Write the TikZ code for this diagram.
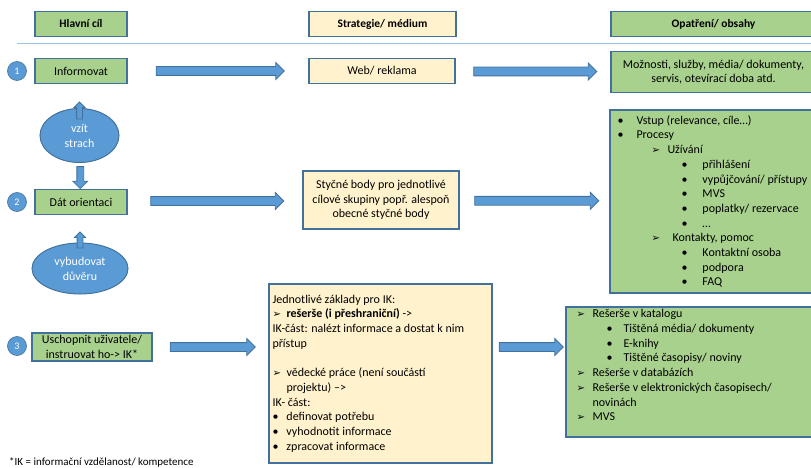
\documentclass[tikz,border=0pt]{standalone}
\usepackage{fontspec}
\setmainfont{Carlito}
\newfontfamily\symfont{DejaVu Sans}[Scale=0.85]
\definecolor{boxline}{HTML}{41719C}
\definecolor{goalgreen}{HTML}{A9D18E}
\definecolor{stratcream}{HTML}{FFF2CC}
\definecolor{arrowblue}{HTML}{5B9BD5}
\definecolor{rulecol}{HTML}{9DC3E6}
\usetikzlibrary{calc, shapes.geometric, shapes.arrows}

\begin{document}
\begin{tikzpicture}[x=1pt, y=-1pt,
  headbox/.style={draw=boxline, line width=1.4pt, minimum height=25, inner sep=2pt,
                  font=\fontsize{11.5}{13}\selectfont\bfseries},
  goalbox/.style={draw=boxline, line width=1.4pt, fill=goalgreen, inner sep=2pt,
                  align=center, font=\fontsize{12}{14.7}\selectfont},
  stratbox/.style={goalbox, fill=stratcream},
  listbox/.style={draw=boxline, line width=1.4pt, fill=goalgreen},
  listtext/.style={inner sep=0pt, align=left, font=\fontsize{12}{14.7}\selectfont},
  numdot/.style={circle, draw=boxline, line width=0.6pt, fill=arrowblue, text=white,
                 minimum size=19, inner sep=0pt, font=\fontsize{10}{12}\selectfont},
  feeling/.style={ellipse, draw=boxline, line width=1pt, fill=arrowblue, text=white,
                  align=center, inner sep=0pt, font=\fontsize{12}{15}\selectfont},
  blockarrow/.style={single arrow, draw=boxline, fill=arrowblue, line width=0.8pt,
                     inner sep=4pt, single arrow head extend=4pt,
                     single arrow tip angle=90, single arrow head indent=0pt},
  smallarrow/.style={blockarrow, inner sep=2.5pt, single arrow head extend=2.5pt},
]
\useasboundingbox (0,0) rectangle (811,468);

\node[headbox, fill=goalgreen, minimum width=92] (hcil) at (81,24) {Hlavní cíl};
\node[headbox, fill=stratcream, minimum width=147] (hstrat) at (382.5,24) {Strategie/ médium};
\node[headbox, fill=goalgreen, minimum width=205] (hopat) at (713.5,24) {Opatření/ obsahy};
\draw[rulecol, line width=1.2pt] (17,43.5) -- (811,43.5);

% 1
\node[numdot] (n1) at (17,71) {1};
\node[goalbox, minimum width=92, minimum height=25] (inf) at (81,71) {Informovat};
\node[stratbox, minimum width=146, minimum height=25] (web) at (382,71) {Web/ reklama};
\node[goalbox, minimum width=205, minimum height=41] (mozn) at (713.5,72)
  {Možnosti, služby, média/ dokumenty,\\servis, otevírací doba atd.};
\node[blockarrow, minimum height=128] (a1) at ($(inf.east)!.5!(web.west)$) {};
\node[blockarrow, minimum height=123] (a2) at ($(web.east)!.5!(mozn.west)$) {};

\node[feeling, minimum width=79, minimum height=54] (e1) at (79.5,135.5) {vzít\\strach};
\node[smallarrow, shape border rotate=90, minimum height=17] (a3) at ([yshift=-4pt]e1.north) {};

% 2
\node[numdot] (n2) at (17,202) {2};
\node[goalbox, minimum width=92, minimum height=25] (dat) at (81,202) {Dát orientaci};
\node[blockarrow, inner sep=3pt, single arrow head extend=4pt, shape border rotate=270,
      minimum height=22] (a4) at ($(e1.south)!.5!(dat.north)$) {};
\node[stratbox, minimum width=156, minimum height=58] (styc) at (381,200)
  {Styčné body pro jednotlivé\\cílové skupiny popř. alespoň\\obecné styčné body};
\node[listbox, minimum width=206, minimum height=183] (vstup) at (713,201.5) {};
\node[listtext, anchor=west] (vstuptext) at ([xshift=8pt]vstup.west) {%
  \makebox[19pt][l]{•}Vstup (relevance, cíle…)\\
  \makebox[19pt][l]{•}Procesy\\
  \hspace*{34pt}\makebox[16pt][l]{\symfont ➢}Užívání\\
  \hspace*{64pt}\makebox[21pt][l]{•}přihlášení\\
  \hspace*{64pt}\makebox[21pt][l]{•}vypůjčování/ přístupy\\
  \hspace*{64pt}\makebox[21pt][l]{•}MVS\\
  \hspace*{64pt}\makebox[21pt][l]{•}poplatky/ rezervace\\
  \hspace*{64pt}\makebox[21pt][l]{•}…\\
  \hspace*{34pt}\makebox[21pt][l]{\symfont ➢}Kontakty, pomoc\\
  \hspace*{64pt}\makebox[21pt][l]{•}Kontaktní osoba\\
  \hspace*{64pt}\makebox[21pt][l]{•}podpora\\
  \hspace*{64pt}\makebox[21pt][l]{•}FAQ};
\node[blockarrow, minimum height=133] (a5) at ($(dat.east)!.5!(styc.west)$) {};
\node[blockarrow, minimum height=124] (a6) at ($(styc.east)!.5!(vstup.west)$) {};

\node[feeling, minimum width=96, minimum height=51] (e2) at (80,268.5) {vybudovat\\důvěru};
\node[smallarrow, shape border rotate=90, minimum height=16] (a7) at ([yshift=1pt]e2.north) {};

% 3
\node[numdot] (n3) at (17,346) {3};
\node[goalbox, minimum width=120, minimum height=28] (usch) at (92,347)
  {Uschopnit uživatele/\\instruovat ho-> IK*};
\node[stratbox, minimum width=223, minimum height=179] (ik) at (380.5,373.5) {};
\node[listtext, anchor=west] (iktext) at ([xshift=4pt]ik.west) {%
  Jednotlivé základy pro IK:\\
  \makebox[14pt][l]{\symfont ➢}\textbf{rešerše (i přeshraniční)} ->\\
  IK-část: nalézt informace a dostat k nim\\
  přístup\\[14.7pt]
  \makebox[14pt][l]{\symfont ➢}vědecké práce (není součástí\\
  \hspace*{14pt}projektu) –>\\
  IK- část:\\
  \makebox[14pt][l]{•}definovat potřebu\\
  \makebox[14pt][l]{•}vyhodnotit informace\\
  \makebox[14pt][l]{•}zpracovat informace};
\node[listbox, minimum width=250, minimum height=130] (res) at (691,372) {};
\node[listtext, anchor=north west] (restext) at ([xshift=11pt, yshift=-3pt]res.north west) {%
  \makebox[16pt][l]{\symfont ➢}Rešerše v katalogu\\
  \hspace*{30pt}\makebox[17pt][l]{•}Tištěná média/ dokumenty\\
  \hspace*{30pt}\makebox[17pt][l]{•}E-knihy\\
  \hspace*{30pt}\makebox[17pt][l]{•}Tištěné časopisy/ noviny\\
  \makebox[16pt][l]{\symfont ➢}Rešerše v databázích\\
  \makebox[16pt][l]{\symfont ➢}Rešerše v elektronických časopisech/\\
  \hspace*{16pt}novinách\\
  \makebox[16pt][l]{\symfont ➢}MVS};
\node[blockarrow, minimum height=85] (a8) at ($(usch.east)!.5!(usch.east -| ik.west)$) {};
\node[blockarrow, minimum height=64] (a9) at ($(usch.east -| ik.east)!.5!(usch.east -| res.west)$) {};

\node[anchor=base west, inner sep=0pt, font=\fontsize{11}{13}\selectfont] (note) at (9,465)
  {*IK = informační vzdělanost/ kompetence};
\end{tikzpicture}
\end{document}
